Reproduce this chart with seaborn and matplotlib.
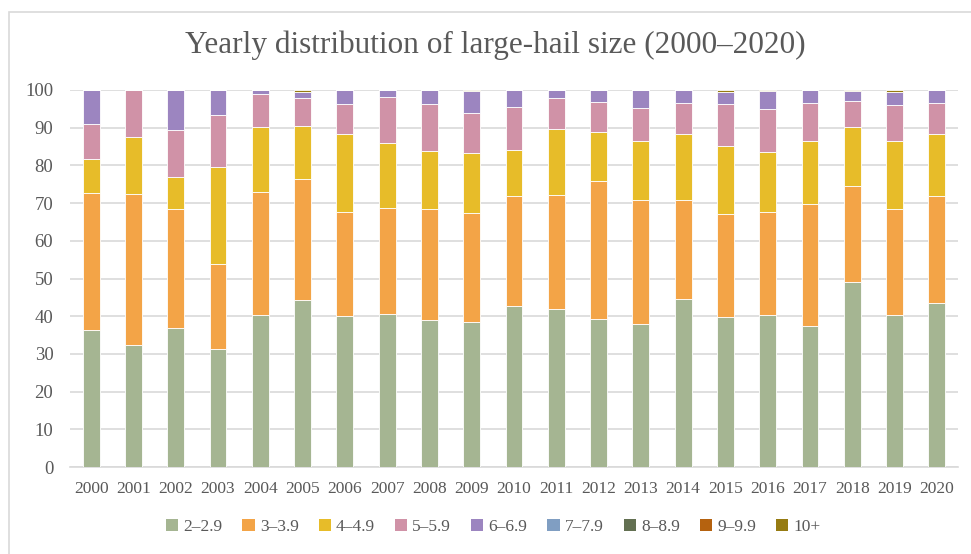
import numpy as np
import pandas as pd
import seaborn as sns
import matplotlib
matplotlib.use("Agg")
import matplotlib.pyplot as plt
from matplotlib.patches import Rectangle, Patch

years = [str(y) for y in range(2000, 2021)]
size_classes = ["2–2.9", "3–3.9", "4–4.9", "5–5.9", "6–6.9", "7–7.9", "8–8.9", "9–9.9", "10+"]

# Percentage share of each hail-size class per year
s2 = [36.3, 32.4, 36.8, 31.2, 40.2, 44.2, 40.1, 40.5, 38.9, 38.4, 42.6,
      42.0, 39.2, 37.8, 44.5, 39.7, 40.3, 37.3, 49.2, 40.3, 43.4]
s3 = [36.3, 40.1, 31.6, 22.6, 32.7, 32.1, 27.5, 28.1, 29.5, 29.1, 29.3,
      30.1, 36.6, 32.9, 26.4, 27.3, 27.3, 32.4, 25.4, 28.1, 28.4]
s4 = [9.2, 15.0, 8.4, 25.7, 17.3, 14.2, 20.6, 17.3, 15.5, 15.7, 12.2,
      17.5, 13.0, 15.9, 17.3, 18.1, 15.9, 16.7, 15.5, 18.2, 16.4]
s5 = [9.1, 12.5, 12.6, 14.0, 8.7, 7.5, 8.0, 12.2, 12.4, 10.6, 11.3,
      8.2, 7.9, 8.5, 8.3, 11.1, 11.4, 10.2, 6.9, 9.3, 8.3]
s6 = [9.1, 0.0, 10.6, 6.5, 1.1, 1.6, 3.8, 1.9, 3.7, 5.9, 4.6,
      2.2, 3.3, 4.9, 3.5, 3.4, 4.8, 3.4, 2.8, 3.7, 3.5]
s7 = [0.0] * 21
s8 = [0.0] * 21
s9 = [0.0] * 21
s10 = [0.0, 0.0, 0.0, 0.0, 0.0, 0.4, 0.0, 0.0, 0.0, 0.3, 0.0,
       0.0, 0.0, 0.0, 0.0, 0.4, 0.3, 0.0, 0.2, 0.4, 0.0]

series = [s2, s3, s4, s5, s6, s7, s8, s9, s10]
colors = ["#A5B592", "#F3A447", "#E7BC29", "#D092A7", "#9C85C0",
          "#809EC2", "#637052", "#B5620F", "#967B12"]

text_color = "#595959"
grid_color = "#D9D9D9"

sns.set_theme(style="white")
plt.rcParams["font.family"] = ["Liberation Serif", "DejaVu Serif"]

fig = plt.figure(figsize=(9.71, 5.54), dpi=100)
ax = fig.add_axes([70 / 971, 87 / 554, 888 / 971, 377 / 554])

df = pd.DataFrame({"year": years})
bottom = np.zeros(len(years))
for name, vals, col in zip(size_classes, series, colors):
    vals = np.asarray(vals, dtype=float)
    df[name] = vals
    sns.barplot(data=df, x="year", y=name, order=years, color=col,
                width=0.4, bottom=bottom, edgecolor="white", linewidth=0.6,
                saturation=1, ax=ax, zorder=3)
    bottom = bottom + vals

ax.set_xlim(-0.5, len(years) - 0.5)
ax.set_ylim(0, 100)
ax.set_yticks(range(0, 101, 10))
ax.set_xlabel("")
ax.set_ylabel("")
ax.yaxis.grid(True, color=grid_color, linewidth=1.2, zorder=0)
ax.set_axisbelow(True)
for side in ["left", "right", "top"]:
    ax.spines[side].set_visible(False)
ax.spines["bottom"].set_color(grid_color)
ax.spines["bottom"].set_linewidth(1.2)
ax.tick_params(axis="y", length=0, pad=12, labelsize=13.5, labelcolor=text_color)
ax.tick_params(axis="x", length=0, pad=10, labelsize=12.5, labelcolor=text_color)

fig.text(0.510, 1 - 45 / 554, "Yearly distribution of large-hail size (2000–2020)",
         ha="center", va="center", fontsize=22.5, color=text_color)

handles = [Patch(facecolor=c, edgecolor="none") for c in colors]
fig.legend(handles, size_classes, loc="center", bbox_to_anchor=(0.508, 1 - 527 / 554),
           ncol=len(size_classes), frameon=False, fontsize=12.5,
           handlelength=0.7, handleheight=0.7, handletextpad=0.3,
           columnspacing=1.15, labelcolor=text_color)

fig.patches.append(Rectangle((9 / 971, -0.05), 1.2, 1 - 12 / 554 + 0.05,
                             transform=fig.transFigure, fill=False,
                             edgecolor=grid_color, linewidth=1.2))

fig.savefig("out.png", dpi=100, facecolor="white")
